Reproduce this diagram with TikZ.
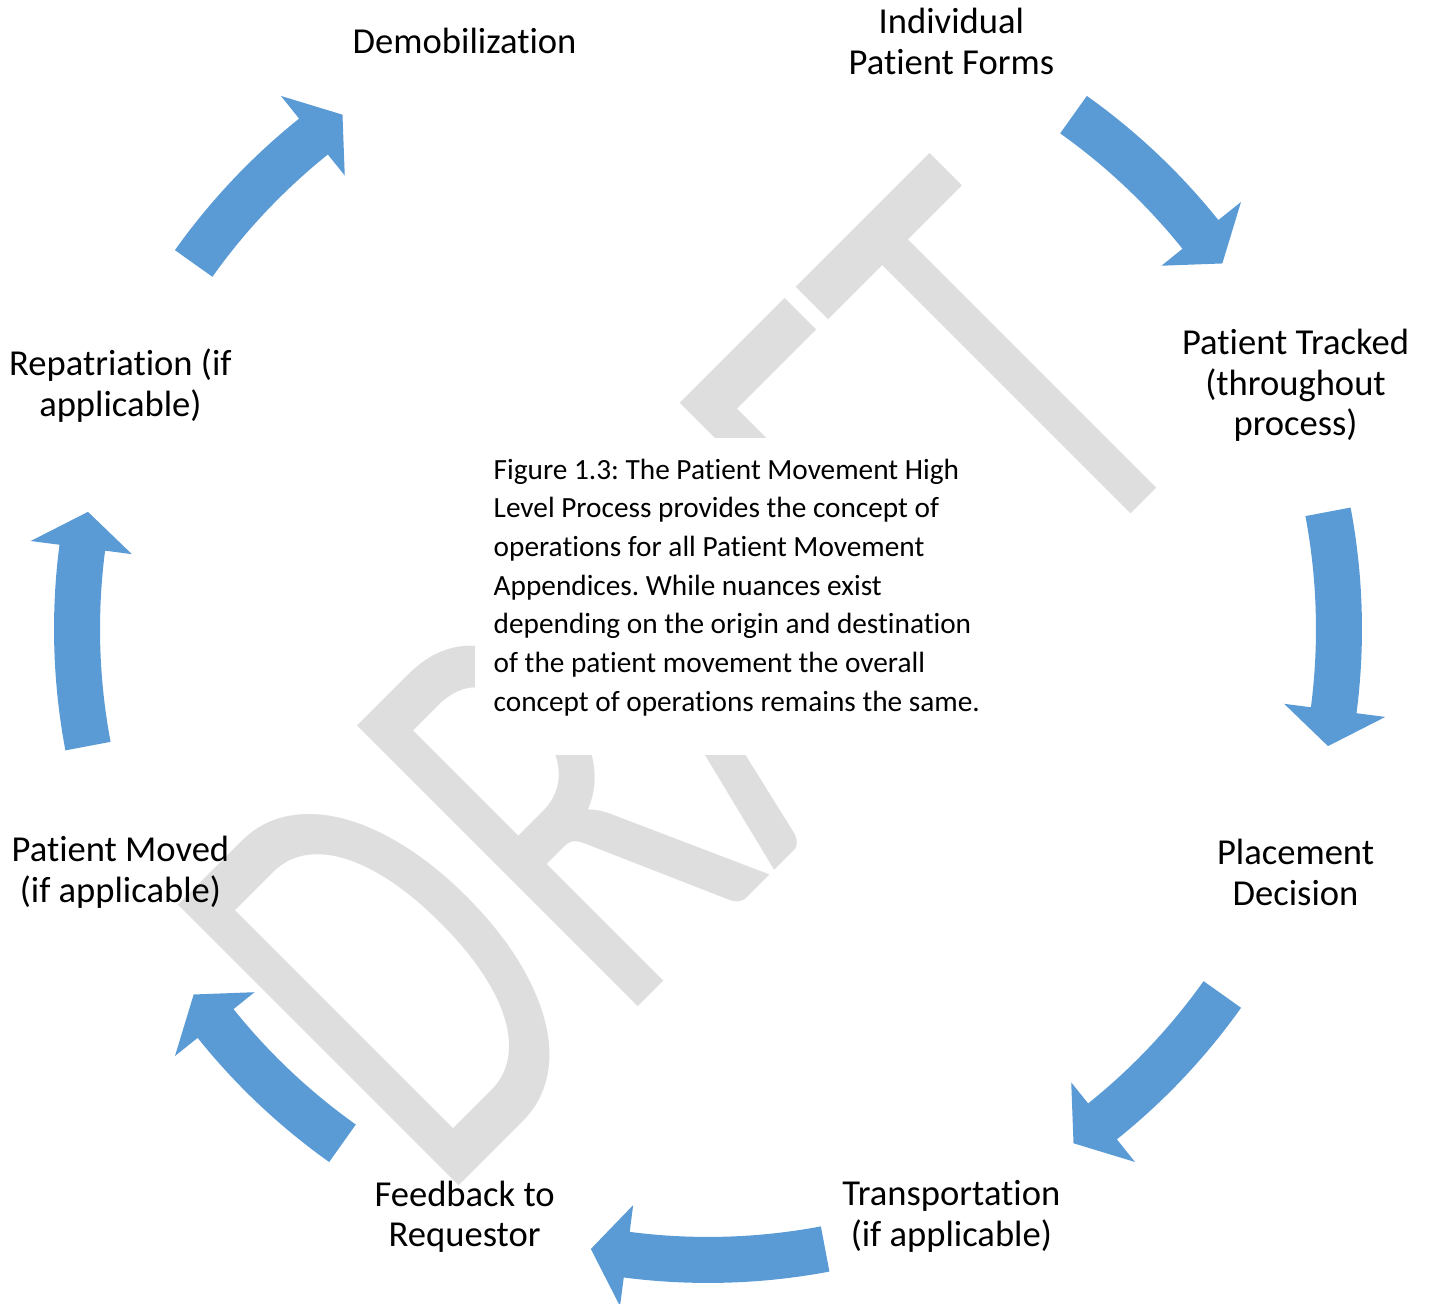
\documentclass[tikz,border=0pt]{standalone}
\usepackage{fontspec}
\setmainfont{Carlito}[Ligatures=NoCommon]
\usetikzlibrary{calc}
\definecolor{cycleblue}{RGB}{91,155,213}
\definecolor{wmgray}{RGB}{222,222,222}
\frenchspacing
\begin{document}
\begin{tikzpicture}[x=0.01cm,y=0.01cm,
  steptext/.style={align=center, font=\fontsize{10.4}{11.5}\selectfont, inner sep=0pt},
  cyclearrow/.style={fill=cycleblue, draw=none},
  watermark/.style={text=wmgray, inner sep=0pt, font=\fontsize{176}{176}\selectfont},
  captiontext/.style={align=left, font=\fontsize{8.33}{11}\selectfont, inner sep=0pt}]
\useasboundingbox (0,0) rectangle (1432,1304);
\coordinate (C) at (708,675);

% watermark behind everything
\node[watermark, rotate=45, anchor=base] (draft) at (827,486) {\scalebox{0.66}[1]{DRAFT}};

% white panel carrying the caption
\coordinate (panelSW) at (475,549);
\coordinate (panelNE) at (995,866);
\fill[white] (panelSW) rectangle (panelNE);
\node[captiontext, anchor=north west] (caption) at (493,846)
  {Figure 1.3: The Patient Movement High\\
   Level Process provides the concept of\\
   operations for all Patient Movement\\
   Appendices. While nuances exist\\
   depending on the origin and destination\\
   of the patient movement the overall\\
   concept of operations remains the same.};

% curved block arrows, running clockwise round the centre
\foreach \mid/\half in {45/9.6, 0/10.7, -45/9.6, -90/10.7, -135/9.6, -180/10.7, -225/9.6} {
  \pgfmathsetmacro\tail{\mid+\half}
  \pgfmathsetmacro\tip{\mid-\half}
  \pgfmathsetmacro\neck{\mid-\half+3.3}
  \fill[cyclearrow] ($(C)+(\tail:654)$) arc[start angle=\tail, end angle=\neck, radius=654]
     -- ($(C)+(\neck:683)$) -- ($(C)+(\tip:631)$) -- ($(C)+(\neck:581)$) -- ($(C)+(\neck:608)$)
     arc[start angle=\neck, end angle=\tail, radius=608] -- cycle;
}

% process steps
\node[steptext] (forms)     at ($(C)+(67.5:636)$)   {Individual\\Patient Forms};
\node[steptext] (tracked)   at ($(C)+(22.5:636)$)   {Patient Tracked\\(throughout\\process)};
\node[steptext] (placement) at ($(C)+(-22.5:636)$)  {Placement\\Decision};
\node[steptext] (transport) at ($(C)+(-67.5:636)$)  {Transportation\\(if applicable)};
\node[steptext] (feedback)  at ($(C)+(-112.5:636)$) {Feedback to\\Requestor};
\node[steptext] (moved)     at ($(C)+(-157.5:636)$) {Patient Moved\\(if applicable)};
\node[steptext] (repat)     at ($(C)+(157.5:636)$)  {Repatriation (if\\applicable)};
\node[steptext] (demob)     at ($(C)+(112.5:636)$)  {Demobilization};
\end{tikzpicture}
\end{document}
